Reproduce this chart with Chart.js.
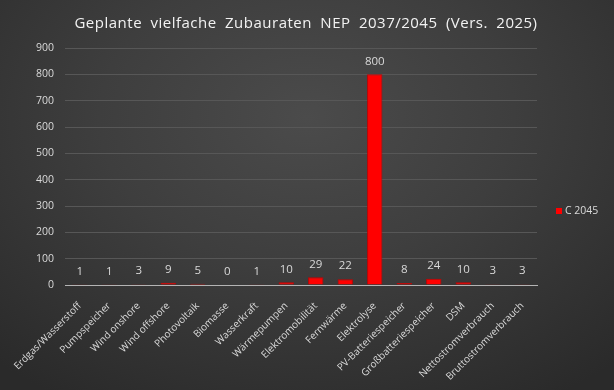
<!DOCTYPE html>
<html>
<head>
<meta charset="utf-8">
<script src="https://cdn.jsdelivr.net/npm/chart.js@4"></script>
<style>
html,body{margin:0;padding:0;width:614px;height:390px;overflow:hidden;}
body{background:radial-gradient(ellipse 75% 85% at 50% 30%, #4b4b4b 0%, #3e3e3e 45%, #2a2a2a 100%);}
canvas{display:block;}
</style>
</head>
<body>
<canvas id="c" width="614" height="390"></canvas>
<script>
const titleText = 'Geplante vielfache Zubauraten NEP 2037/2045 (Vers. 2025)';
const categories = ['Erdgas/Wasserstoff','Pumpspeicher','Wind onshore','Wind offshore','Photovoltaik','Biomasse','Wasserkraft','Wärmepumpen','Elektromobilität','Fernwärme','Elektrolyse','PV-Batteriespeicher','Großbatteriespeicher','DSM','Nettostromverbrauch','Bruttostromverbrauch'];
const seriesName = 'C 2045';
const values = [1,1,3,9,5,0,1,10,29,22,800,8,24,10,3,3];
const yTicks = [0,100,200,300,400,500,600,700,800,900];

const FONT = '"Open Sans", "Noto Sans", sans-serif';
const TXT = '#d9d9d9';

const titlePlugin = {
  id: 'titleP',
  afterDraw(chart) {
    const ctx = chart.ctx;
    ctx.save();
    ctx.font = '15px ' + FONT;
    ctx.fillStyle = '#f2f2f2';
    ctx.textAlign = 'center';
    ctx.textBaseline = 'middle';
    try { ctx.letterSpacing = '0.5px'; ctx.wordSpacing = '4px'; } catch(e) {}
    ctx.fillText(titleText, 306, 24);
    ctx.restore();
  }
};

const labelPlugin = {
  id: 'labelsP',
  afterDatasetsDraw(chart) {
    const ctx = chart.ctx;
    const meta = chart.getDatasetMeta(0);
    ctx.save();
    ctx.font = '11.5px ' + FONT;
    ctx.fillStyle = TXT;
    ctx.textAlign = 'center';
    ctx.textBaseline = 'middle';
    meta.data.forEach((el, i) => {
      ctx.fillText(String(values[i]), el.x, el.y - 13);
    });
    ctx.restore();
  }
};

const legendPlugin = {
  id: 'legendP',
  afterDraw(chart) {
    const ctx = chart.ctx;
    ctx.save();
    ctx.fillStyle = '#ff0000';
    ctx.fillRect(556, 208, 6, 6);
    ctx.font = '10.5px ' + FONT;
    ctx.fillStyle = TXT;
    ctx.textAlign = 'left';
    ctx.textBaseline = 'middle';
    ctx.fillText(seriesName, 565, 211);
    ctx.restore();
  }
};

new Chart(document.getElementById('c'), {
  type: 'bar',
  data: {
    labels: categories,
    datasets: [{
      label: seriesName,
      data: values,
      backgroundColor: '#ff0000',
      borderColor: '#c80000',
      borderWidth: 1,
      barPercentage: 0.52,
      categoryPercentage: 1.0
    }]
  },
  options: {
    responsive: false,
    animation: false,
    layout: { padding: { left: 0, right: 77, top: 48, bottom: 0 } },
    plugins: { legend: { display: false }, title: { display: false }, tooltip: { enabled: false } },
    scales: {
      x: {
        grid: { display: false },
        border: { color: '#b4b4b4', width: 1 },
        ticks: { color: TXT, font: { family: FONT, size: 10 }, maxRotation: 45, minRotation: 45, autoSkip: false, padding: 7 },
        afterFit(s) { s.height = 105; }
      },
      y: {
        min: 0, max: 900,
        afterBuildTicks(s) { s.ticks = yTicks.map(v => ({ value: v })); },
        grid: { color: ctx => ctx.tick && ctx.tick.value === 0 ? 'rgba(0,0,0,0)' : '#575757', drawTicks: false },
        border: { display: false },
        ticks: { color: TXT, font: { family: FONT, size: 10.5 }, padding: 11 },
        afterFit(s) { s.width = 65; }
      }
    }
  },
  plugins: [titlePlugin, labelPlugin, legendPlugin]
});
</script>
</body>
</html>
